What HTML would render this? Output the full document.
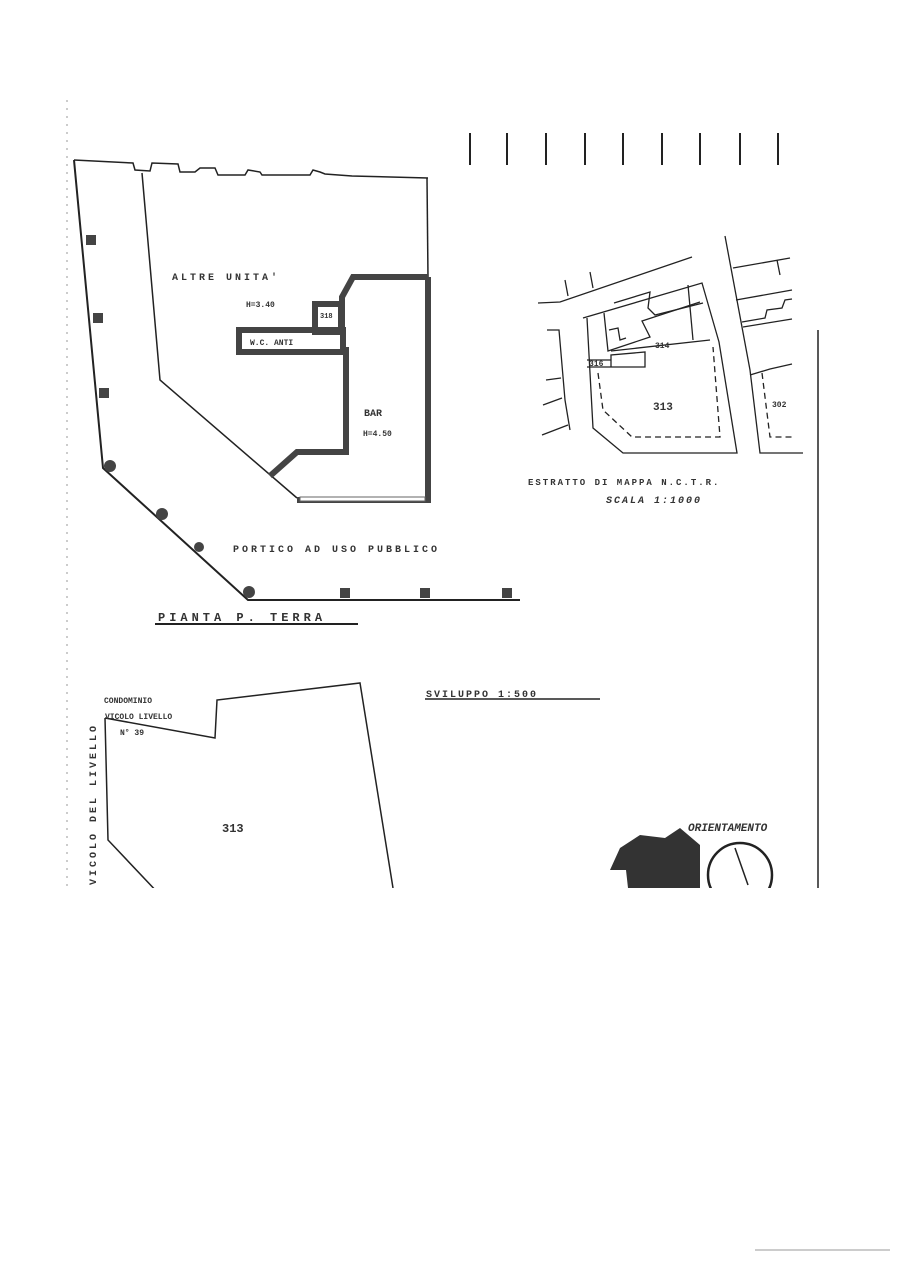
<!DOCTYPE html>
<html><head><meta charset="utf-8"><style>
html,body{margin:0;padding:0;background:#fff}
svg{display:block}
text{font-family:"Liberation Mono",monospace;fill:#333;font-weight:bold}
</style></head><body>
<svg width="904" height="1280" viewBox="0 0 904 1280" xmlns="http://www.w3.org/2000/svg">
<defs><clipPath id="c"><rect x="0" y="0" width="904" height="888"/></clipPath></defs>
<g clip-path="url(#c)" stroke="#222" fill="none" stroke-width="1.5">
<!-- left dotted border -->
<line x1="67" y1="100" x2="67" y2="890" stroke="#bbb" stroke-dasharray="2 6"/>
<!-- outer left / top -->
<polyline points="74,160 103,468 248,600 520,600" stroke-width="2"/>
<polyline points="74,160 133,163 135,170 150,171 152,163 178,164 180,172 195,172 200,168 215,168 218,175 245,175 248,170 260,172 262,175 310,175 313,170 320,172 325,174 352,176 428,178" stroke-width="1.5"/>
<polyline points="142,173 160,380 297,498"/>
<line x1="427" y1="178" x2="428" y2="278"/>
<!-- bar thick walls -->
<g stroke="#444" stroke-width="6">
<polyline points="428,277 353,277 342,297 342,333"/>
<rect x="315" y="304" width="26" height="28"/>
<rect x="239" y="330" width="104" height="22"/>
<polyline points="346,347 346,452 297,452 270,476"/>
<polyline points="428,277 428,500 297,500"/>
</g>
<rect x="300" y="497" width="125" height="4" fill="#fff" stroke="#666" stroke-width="1"/>
<!-- columns -->
<g fill="#444" stroke="none">
<rect x="86" y="235" width="10" height="10"/><rect x="93" y="313" width="10" height="10"/><rect x="99" y="388" width="10" height="10"/>
<circle cx="110" cy="466" r="6"/><circle cx="162" cy="514" r="6"/><circle cx="199" cy="547" r="5"/><circle cx="249" cy="592" r="6"/>
<rect x="340" y="588" width="10" height="10"/><rect x="420" y="588" width="10" height="10"/><rect x="502" y="588" width="10" height="10"/>
</g>
<!-- PIANTA underline -->
<line x1="155" y1="624" x2="358" y2="624" stroke-width="2"/>
<!-- ticks -->
<g stroke-width="2"><line x1="470" y1="133" x2="470" y2="165"/><line x1="507" y1="133" x2="507" y2="165"/><line x1="546" y1="133" x2="546" y2="165"/><line x1="585" y1="133" x2="585" y2="165"/><line x1="623" y1="133" x2="623" y2="165"/><line x1="662" y1="133" x2="662" y2="165"/><line x1="700" y1="133" x2="700" y2="165"/><line x1="740" y1="133" x2="740" y2="165"/><line x1="778" y1="133" x2="778" y2="165"/></g>
<!-- map -->
<g stroke-width="1.3">
<polyline points="538,303 560,302 692,257"/>
<line x1="565" y1="280" x2="568" y2="296"/><line x1="590" y1="272" x2="593" y2="288"/>
<polyline points="583,318 702,283 719,342 737,453 623,453 593,428 587,318"/>
<polyline points="604,313 608,351 650,337 642,321 700,302"/>
<polyline points="609,330 618,328 620,340 626,338"/>
<polyline points="614,303 650,292 648,308 655,315 703,303"/>
<polyline points="611,351 710,340"/>
<polyline points="587,367 645,367 645,352 611,355 611,367"/>
<polyline points="587,360 611,360"/>
<line x1="688" y1="285" x2="693" y2="340"/>
<polyline points="598,373 603,410 632,437 720,437 713,347" stroke-dasharray="6 4"/>
<polyline points="725,236 750,370 760,453 803,453"/>
<polyline points="733,268 790,258"/><line x1="777" y1="260" x2="780" y2="275"/>
<polyline points="736,300 792,290"/>
<polyline points="742,322 765,318 767,310 782,308 785,300 792,299"/>
<polyline points="743,327 792,319"/>
<polyline points="750,375 770,369 792,364"/>
<polyline points="762,373 770,437 792,437" stroke-dasharray="6 4"/>
<polyline points="547,330 559,330 565,400 570,430"/>
<line x1="546" y1="380" x2="561" y2="378"/><line x1="543" y1="405" x2="562" y2="398"/><line x1="542" y1="435" x2="568" y2="425"/>
</g>
<line x1="818" y1="330" x2="818" y2="888" stroke-width="1.5"/>
<!-- bottom parcel -->
<polyline points="105,718 215,738 217,700 360,683 393,888" stroke-width="1.5"/>
<polyline points="105,718 108,840 160,895" stroke-width="1.5"/>
<line x1="425" y1="699" x2="600" y2="699" stroke-width="1.5"/>
<!-- orientation -->
<path d="M620,848 L640,835 L665,838 L680,828 L700,845 L700,888 L628,888 L626,870 L610,870 Z" fill="#333" stroke="none"/>
<circle cx="740" cy="875" r="32" stroke-width="2.5"/>
<line x1="735" y1="848" x2="748" y2="885" stroke-width="1.5"/>
</g>
<line x1="755" y1="1250" x2="890" y2="1250" stroke="#999" stroke-width="1"/>
<g font-size="10">
<text x="172" y="280" letter-spacing="3">ALTRE UNITA'</text>
<text x="246" y="307" font-size="8">H=3.40</text>
<text x="250" y="345" font-size="8">W.C. ANTI</text>
<text x="320" y="318" font-size="7">318</text>
<text x="364" y="416">BAR</text>
<text x="363" y="436" font-size="8">H=4.50</text>
<text x="233" y="552" letter-spacing="3">PORTICO AD USO PUBBLICO</text>
<text x="158" y="621" font-size="12" letter-spacing="4">PIANTA P. TERRA</text>
<text x="655" y="348" font-size="8">314</text>
<text x="589" y="366" font-size="8">316</text>
<text x="653" y="410" font-size="11">313</text>
<text x="772" y="407" font-size="8">302</text>
<text x="528" y="485" font-size="9" letter-spacing="2">ESTRATTO DI MAPPA N.C.T.R.</text>
<text x="606" y="503" font-size="10" font-style="italic" letter-spacing="2">SCALA 1:1000</text>
<text x="426" y="697" font-size="10" letter-spacing="2">SVILUPPO 1:500</text>
<text x="104" y="703" font-size="8">CONDOMINIO</text>
<text x="105" y="719" font-size="8">VICOLO LIVELLO</text>
<text x="120" y="735" font-size="8">N° 39</text>
<text x="222" y="832" font-size="12">313</text>
<text x="688" y="831" font-size="11" font-style="italic" font-family="Liberation Sans,sans-serif">ORIENTAMENTO</text>
<text transform="translate(96,885) rotate(-90)" font-size="10" letter-spacing="3">VICOLO DEL LIVELLO</text>
</g>
</svg>
</body></html>
